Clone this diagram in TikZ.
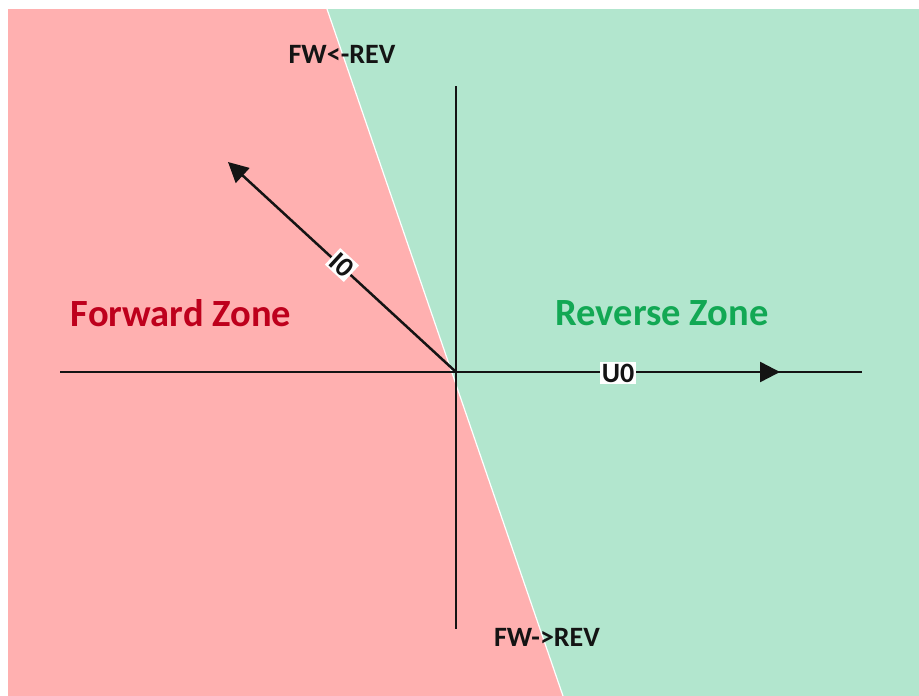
\documentclass[tikz,border=0pt]{standalone}
\usepackage{fontspec}
\setmainfont{Carlito}
\usetikzlibrary{arrows.meta}
\definecolor{fwdfill}{RGB}{255,176,176}
\definecolor{revfill}{RGB}{178,230,206}
\definecolor{fwdtext}{RGB}{190,0,28}
\definecolor{revtext}{RGB}{18,168,84}
\definecolor{axiscol}{RGB}{20,20,20}
\tikzset{
  axis/.style={draw=axiscol, line width=2.5pt},
  vec/.style={axis, -{Triangle[length=20pt,width=20pt]}},
  zonelabel/.style={font=\bfseries\fontsize{38.5}{40}\selectfont, inner sep=0pt},
  smalllabel/.style={font=\bfseries\fontsize{28}{30}\selectfont, text=axiscol, inner sep=0pt},
  veclabel/.style={smalllabel, fill=white, inner sep=2pt}
}
\begin{document}
\begin{tikzpicture}[x=1pt,y=-1pt]
  % page with white margin
  \fill[white] (0,0) rectangle (919,696);
  \useasboundingbox (0,0) rectangle (919,696);

  % the two zones, split by a slanted boundary
  \coordinate (bt) at (327,9);
  \coordinate (bb) at (563,696);
  \fill[fwdfill] (8,9) -- (bt) -- (bb) -- (8,696) -- cycle;
  \fill[revfill] (bt) -- (919,9) -- (919,696) -- (bb) -- cycle;
  \draw[white, line width=1.2pt] (bt) -- (bb);

  % axes
  \coordinate (o) at (456,372);
  \coordinate (xl) at (60,372);
  \coordinate (xr) at (862,372);
  \coordinate (yt) at (456,86);
  \coordinate (yb) at (456,629);
  \coordinate (utip) at (780,372);
  \coordinate (itip) at (228,162);
  \draw[axis] (xl) -- (xr);
  \draw[axis] (yt) -- (yb);

  % vectors
  \draw[vec] (o) -- (utip);
  \draw[vec] (o) -- (itip);
  \node[veclabel] (u0) at (618,373) {U0};
  \node[veclabel, rotate=-42.6] (i0) at (342,265) {I0};

  % zone labels
  \node[zonelabel, text=fwdtext] (fz) at (181,313) {Forward Zone};
  \node[zonelabel, text=revtext] (rz) at (662,313) {Reverse Zone};
  \node[smalllabel] (rf) at (342,54) {FW<-REV};
  \node[smalllabel] (fr) at (547,637) {FW->REV};
\end{tikzpicture}
\end{document}
